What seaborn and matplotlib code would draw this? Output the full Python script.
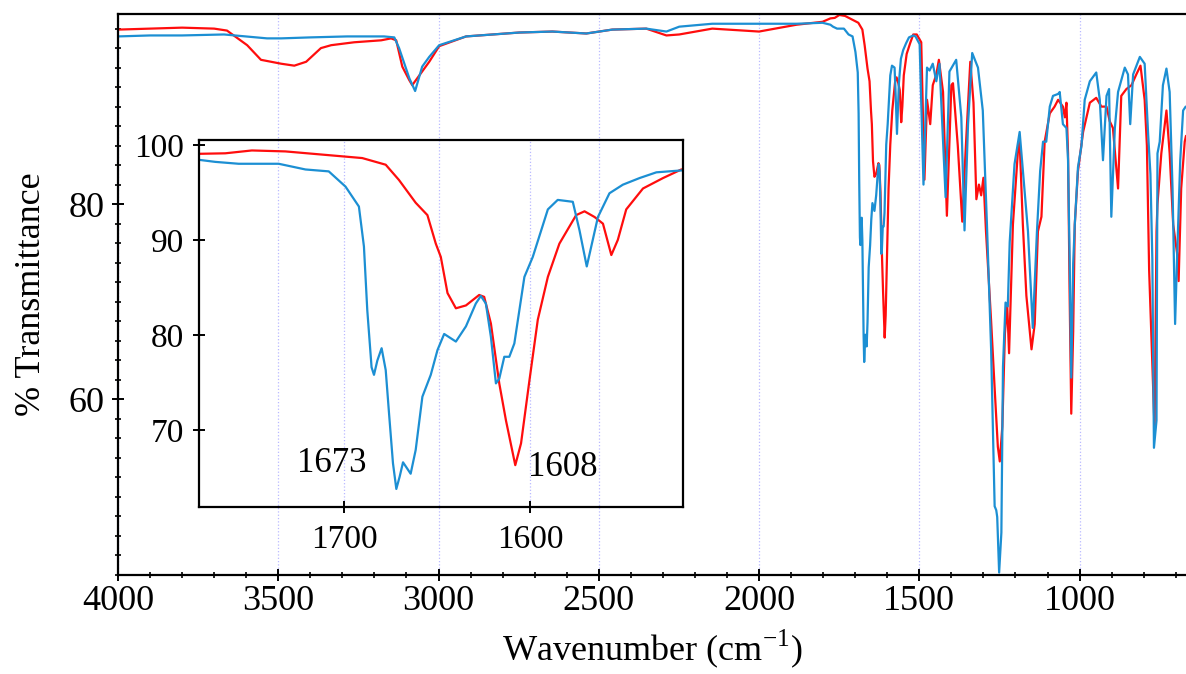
import numpy as np
import pandas as pd
import matplotlib
matplotlib.use("Agg")
import matplotlib.pyplot as plt
from matplotlib.ticker import MultipleLocator, FixedLocator
import seaborn as sns

# ---------------- data ----------------
red_wn = [4000, 3900, 3800, 3700, 3660, 3597, 3554, 3491, 3450, 3413, 3367, 3335, 3263, 3179, 3148,
          3132, 3113, 3091, 3082, 3060, 3029, 2998, 2914, 2748, 2645, 2539, 2458, 2352, 2289, 2249,
          2146, 2000, 1883, 1802, 1777.4, 1763.9, 1749.6, 1731.6, 1708.3, 1690.3, 1677.7, 1670.6,
          1661.6, 1655.3, 1650.8, 1648.1, 1644.5, 1640.0, 1634.6, 1627.5, 1624.8, 1621.2, 1616.7,
          1613.1, 1608.1, 1605.0, 1600.5, 1596.0, 1590.6, 1584.4, 1575.4, 1570.9, 1565.5, 1561.0,
          1556.5, 1553.0, 1548.5, 1539.5, 1528.7, 1518.9, 1508, 1494, 1484, 1476, 1466, 1458, 1447,
          1439, 1426, 1414, 1400, 1395, 1380, 1366, 1356, 1341, 1331, 1322, 1314, 1307, 1300, 1292,
          1276, 1265, 1255, 1249, 1241, 1233, 1226, 1220, 1208, 1192, 1187, 1177, 1166, 1150, 1140,
          1130, 1119, 1109, 1093, 1078, 1067, 1052, 1046, 1041, 1036, 1031, 1026, 1020, 1015, 1005,
          989, 968, 948, 932, 916, 906, 896, 880, 870, 854, 838, 823, 810, 797, 790, 783, 766, 760,
          757, 745, 729, 719, 708, 696, 691, 683, 672, 668]
red_T = [97.9, 98.0, 98.1, 98.0, 97.8, 96.3, 94.8, 94.4, 94.2, 94.6, 96.0, 96.3, 96.6, 96.8, 97.0,
         96.8, 94.1, 92.7, 92.2, 93.2, 94.6, 96.2, 97.2, 97.6, 97.7, 97.5, 97.9, 98.0, 97.3, 97.4,
         98.0, 97.7, 98.4, 98.7, 99.05, 99.1, 99.4, 99.3, 98.9, 98.6, 97.9, 96.3,
         93.9, 92.6, 89.6, 88.2, 84.4, 82.8, 83.1, 84.2, 84.0, 81.2, 74.9,
         71.0, 66.3, 68.6, 75.2, 81.6, 86.1, 89.6, 92.6, 93.0, 92.4, 91.7,
         88.4, 90.0, 93.2, 95.4, 96.5, 97.4, 97.4, 96.6, 82.5, 90.7, 88.2, 92.2, 93.3,
         94.8, 91.5, 78.8, 92.2, 92.4, 86.0, 78.2, 85.2, 94.6, 90.4, 80.5, 82.0, 80.9, 82.7, 77.2,
         68.0, 61.1, 55.1, 53.6, 57.2, 66.7, 69.8, 64.7, 77.9, 85.6, 86.4, 77.9, 70.6, 65.1, 67.7,
         77.2, 78.7, 86.4, 89.3, 90.0, 90.7, 90.0, 88.9, 90.4, 85.2, 70.6, 58.5, 66.9, 77.9, 83.4,
         87.4, 90.4, 90.9, 90.0, 90.0, 88.5, 87.8, 81.6, 91.1, 91.8, 92.2, 93.3, 94.2, 90.7, 86.0,
         73.2, 56.8, 77.2, 80.0, 85.2, 89.6, 85.2, 77.9, 75.0, 72.1, 81.6, 86.4, 87.0]

blue_wn = [4000, 3900, 3800, 3669, 3535, 3491, 3400, 3285, 3170, 3138, 3123, 3091, 3073, 3051, 3029,
           2998, 2914, 2748, 2645, 2539, 2458, 2352, 2289, 2249, 2146, 2000, 1883, 1802, 1777.4,
           1769.3, 1756.7, 1735.2, 1720.8, 1708.3, 1699.3, 1692.1, 1689.4, 1687.6, 1685.3, 1684.0,
           1682.2, 1679.9, 1677.7, 1675.9, 1673.8, 1672.0, 1670.2, 1668.4, 1664.3, 1661.6, 1658.0,
           1653.5, 1649.9, 1646.3, 1640.0, 1634.6, 1629.3, 1626.6, 1623.9, 1621.2, 1618.5, 1616.7,
           1614.0, 1611.3, 1608.6, 1603.2, 1598.7, 1590.6, 1585.3, 1577.2, 1573.6, 1569.7, 1567.3,
           1563.7, 1557.5, 1550.3, 1541.3, 1532.3, 1518.9, 1512, 1499, 1487, 1476, 1468, 1458, 1447,
           1437, 1418, 1406, 1385, 1369, 1359, 1348, 1335, 1317, 1302, 1289, 1276, 1265, 1260, 1257,
           1251, 1244, 1239, 1231, 1224, 1218, 1203, 1187, 1175, 1161, 1146, 1133, 1123, 1114, 1104,
           1093, 1083, 1067, 1062, 1052, 1041, 1036, 1031, 1026, 1020, 1015, 1005, 994, 984, 968,
           948, 937, 927, 916, 908, 901, 890, 880, 859, 849, 842, 833, 812, 797, 786, 779, 773, 768,
           760, 757, 750, 740, 729, 719, 710, 702, 696, 686, 677, 669]
blue_T = [97.2, 97.3, 97.3, 97.4, 97.0, 97.0, 97.1, 97.2, 97.2, 97.1, 96.0, 92.9, 91.6, 94.1, 95.1,
          96.3, 97.2, 97.6, 97.7, 97.5, 97.9, 98.0, 97.7, 98.2, 98.5, 98.5, 98.5, 98.6, 98.4,
          98.2, 98.0, 98.0, 97.4, 97.2, 95.6, 93.5, 89.3, 82.6, 76.6, 75.8,
          77.3, 78.6, 76.3, 71.7, 66.5, 63.8, 65.1, 66.6, 65.4, 67.9, 73.5,
          75.8, 78.4, 80.1, 79.3, 80.9, 83.3, 84.1, 83.3, 79.8, 74.9, 75.4,
          77.7, 77.7, 79.1, 86.1, 88.2, 93.2, 94.2, 94.0, 91.0, 87.2, 89.3,
          92.4, 94.9, 95.8, 96.5, 97.1, 97.3, 97.2, 96.4, 82.0, 94.0, 93.7, 94.4, 92.6,
          94.4, 80.7, 93.6, 94.8, 88.9, 77.3, 88.2, 95.5, 94.0, 89.6, 77.9, 65.1, 49.0, 48.6, 47.9,
          42.2, 46.3, 63.3, 69.9, 69.5, 76.1, 84.1, 87.4, 82.7, 77.2, 67.3, 77.2, 83.4, 86.4, 86.4,
          90.0, 91.1, 91.3, 91.5, 88.2, 87.8, 84.5, 74.3, 62.2, 73.9, 77.9, 83.8, 86.0, 90.7, 92.6,
          93.5, 90.7, 84.5, 91.1, 91.8, 78.7, 87.8, 91.5, 94.0, 93.3, 88.2, 93.3, 95.1, 94.4, 87.1,
          83.1, 74.3, 55.0, 57.8, 85.2, 86.4, 92.2, 93.9, 91.5, 81.6, 67.7, 74.3, 84.5, 89.6, 90.0]

main_xticks = [4000, 3500, 3000, 2500, 2000, 1500, 1000]
main_ytick_labels = [60, 80]
inset_xticks = [1700, 1600]
inset_yticks = [70, 80, 90, 100]
peak_labels = ["1673", "1608"]

RED = "#ff0d0d"
BLUE = "#1c8fd3"
GRID = "#b9b9ff"

sns.set_theme(style="ticks")
plt.rcParams["font.family"] = ["Liberation Serif", "DejaVu Serif"]
plt.rcParams["mathtext.fontset"] = "custom"
plt.rcParams["mathtext.rm"] = "Liberation Serif"
plt.rcParams["axes.edgecolor"] = "black"
plt.rcParams["axes.labelcolor"] = "black"
plt.rcParams["text.color"] = "black"
plt.rcParams["xtick.color"] = "black"
plt.rcParams["ytick.color"] = "black"
plt.rcParams["xtick.labelcolor"] = "black"
plt.rcParams["ytick.labelcolor"] = "black"

df_red = pd.DataFrame({"wn": red_wn, "T": red_T})
df_blue = pd.DataFrame({"wn": blue_wn, "T": blue_T})

W, H = 1186, 674
fig = plt.figure(figsize=(W / 100, H / 100), dpi=100)

# ---------------- main axes ----------------
ax = fig.add_axes([118 / W, 1 - 575 / H, 1 - 118 / W, (575 - 14) / H])
ax.set_facecolor("white")
sns.lineplot(data=df_red, x="wn", y="T", ax=ax, color=RED, linewidth=1.6,
             estimator=None, sort=False)
sns.lineplot(data=df_blue, x="wn", y="T", ax=ax, color=BLUE, linewidth=1.6,
             estimator=None, sort=False)
ax.set_xlim(4000, 668)
ax.set_ylim(41.95, 99.5)
ax.xaxis.set_major_locator(FixedLocator(main_xticks))
ax.xaxis.set_minor_locator(MultipleLocator(100))
ax.yaxis.set_major_locator(FixedLocator(main_ytick_labels))
ax.yaxis.set_minor_locator(MultipleLocator(2))
ax.grid(axis="x", which="major", color=GRID, linestyle=":", linewidth=0.9)
for s in ["left", "bottom", "top"]:
    ax.spines[s].set_linewidth(1.6)
ax.spines["right"].set_visible(False)
ax.tick_params(axis="both", which="major", direction="inout", length=9, width=1.4,
               labelsize=26, colors="black")
ax.tick_params(axis="both", which="minor", direction="inout", length=5, width=1.2,
               colors="black")
ax.tick_params(axis="x", which="major", pad=3)
ax.tick_params(axis="y", which="major", pad=5)
ax.set_xlabel(r"Wavenumber (cm$^{\mathregular{-1}}$)", fontsize=26, color="black")
ax.set_ylabel("% Transmittance", fontsize=26, color="black")
ax.xaxis.set_label_coords(0.5, -0.093)
ax.yaxis.set_label_coords(-0.066, 0.5)

# ---------------- inset ----------------
axi = fig.add_axes([199 / W, 1 - 507 / H, (683 - 199) / W, (507 - 140) / H])
axi.patch.set_alpha(0.0)
sns.lineplot(data=df_red, x="wn", y="T", ax=axi, color=RED, linewidth=1.6,
             estimator=None, sort=False)
sns.lineplot(data=df_blue, x="wn", y="T", ax=axi, color=BLUE, linewidth=1.6,
             estimator=None, sort=False)
axi.set_xlim(1778, 1518)
axi.set_ylim(61.9, 100.5)
axi.xaxis.set_major_locator(FixedLocator(inset_xticks))
axi.yaxis.set_major_locator(FixedLocator(inset_yticks))
axi.grid(axis="x", which="major", color=GRID, linestyle=":", linewidth=0.9)
for s in axi.spines.values():
    s.set_linewidth(1.6)
    s.set_visible(True)
    s.set_color("black")
axi.tick_params(axis="both", which="major", direction="inout", length=9, width=1.4,
                labelsize=24, colors="black")
axi.tick_params(axis="x", pad=8)
axi.tick_params(axis="y", pad=6)
axi.set_xlabel("")
axi.set_ylabel("")
axi.text(1706.6, 66.5, peak_labels[0], fontsize=25, ha="center", va="center", color="black")
axi.text(1582.8, 66.1, peak_labels[1], fontsize=25, ha="center", va="center", color="black")

fig.savefig("out.png", dpi=100)
